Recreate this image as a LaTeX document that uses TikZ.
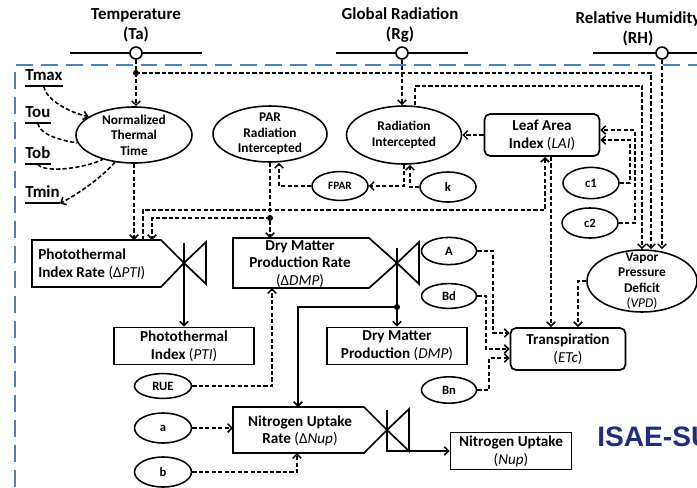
\documentclass[tikz,border=0pt]{standalone}
\usepackage{fontspec}
\setmainfont{Carlito}
\newfontfamily\logofont{Liberation Sans}
\usepackage{tikz}
\usetikzlibrary{arrows.meta,calc,positioning,shapes.geometric}

\definecolor{frameblue}{RGB}{79,129,189}
\definecolor{logoblue}{RGB}{31,45,128}

\newcommand{\abbrev}[1]{{\mdseries(\textit{#1})}}
\newcommand{\rateabbrev}[1]{{\mdseries(Δ\textit{#1})}}

\tikzset{
	hdr/.style={font=\bfseries\fontsize{12}{14.5}\selectfont, align=center, inner sep=0pt},
	tlab/.style={font=\bfseries\fontsize{12}{14}\selectfont, anchor=base west, inner xsep=0pt, inner ysep=4.3pt, text depth=0pt},
	inlet/.style={circle, draw, fill=white, line width=1.1pt, minimum size=0.3cm, inner sep=0pt},
	ell/.style={ellipse, draw, line width=1.1pt, inner sep=0pt, align=center, font=\bfseries\fontsize{9.5}{11}\selectfont},
	elltxt/.style={align=center, inner sep=0pt, font=\bfseries\fontsize{9.5}{11}\selectfont},
	sell/.style={ell, minimum width=1.4cm, minimum height=0.72cm, font=\bfseries\fontsize{9}{10}\selectfont},
	box/.style={rectangle, draw, line width=1.2pt, inner sep=0pt, align=center, font=\bfseries\fontsize{10.8}{12.8}\selectfont},
	rbox/.style={box, rounded corners=4pt},
	ratetxt/.style={inner sep=0pt, font=\bfseries\fontsize{10.8}{12.6}\selectfont},
	dsh/.style={line width=1.1pt, dash pattern=on 3pt off 1.6pt, -{Straight Barb[length=3pt,width=6pt]}},
	flow/.style={line width=1.1pt, -{Straight Barb[length=3pt,width=6pt]}},
	rateline/.style={line width=1.2pt, line join=miter},
	valve/.pic={\draw[rateline] (0,0) -- (22,-21) -- (22,21) -- cycle;},
}

\begin{document}
\begin{tikzpicture}[x=0.025cm, y=-0.025cm]
	\useasboundingbox (0,0) rectangle (697,487);
	\clip (0,0) rectangle (697,487);

	\node[hdr] (tatxt) at (136,25) {Temperature\\(Ta)};
	\node[hdr] (rgtxt) at (400,25) {Global Radiation\\(Rg)};
	\node[hdr] (rhtxt) at (638,29) {Relative Humidity\\(RH)};
	\draw[line width=1.4pt] (70,53) -- (202,53) node[inlet, pos=0.5] (ta) {};
	\draw[line width=1.4pt] (336,53) -- (468,53) node[inlet, pos=0.5] (rg) {};
	\draw[line width=1.4pt] (593,53) -- (731,53) node[inlet, pos=0.5] (rh) {};

	\draw[frameblue, line width=1pt, dash pattern=on 12pt off 5.7pt] (15,487) -- (15,65) -- (697,65);

	\foreach \t/\y in {Tmax/80, Tou/117, Tob/158, Tmin/197}
		\node[tlab] (\t) at (25,\y) {\t};
	\foreach \t in {Tmax, Tou, Tob, Tmin}
		\draw[line width=1.2pt] (\t.south west) -- (\t.south east);

	\node[ell, minimum width=2.9cm, minimum height=1.4cm, label={[elltxt]center:{Normalized\\Thermal\\Time}}] (ntt) at (134,135) {};
	\node[ell, minimum width=2.85cm, minimum height=1.4cm, label={[elltxt]center:{PAR\\Radiation\\Intercepted}}] (par) at (270,134) {};
	\node[ell, minimum width=2.875cm, minimum height=1.45cm] (radint) at (404,135) {Radiation\\Intercepted};
	\node[rbox, minimum width=2.875cm, minimum height=1.05cm] (lai) at (542,135) {Leaf Area\\Index \abbrev{LAI}};
	\node[sell, font=\bfseries\fontsize{8}{9}\selectfont] (fpar) at (340,186) {FPAR};
	\node[sell, minimum height=0.75cm] (k) at (448,187) {k};
	\node[sell, minimum height=0.78cm] (c1) at (591,183) {c1};
	\node[sell, minimum height=0.75cm] (c2) at (590,223) {c2};
	\node[ell, minimum width=2.75cm, minimum height=1.55cm, label={[elltxt]center:{Vapor\\Pressure\\Deficit\\\abbrev{VPD}}}] (vpd) at (642,281) {};
	\node[sell, minimum width=1.375cm, minimum height=0.68cm] (A) at (449,251) {A};
	\node[sell, minimum width=1.375cm, minimum height=0.62cm] (Bd) at (449,296) {Bd};
	\node[sell, minimum width=1.375cm, minimum height=0.66cm] (Bn) at (449,390) {Bn};
	\node[rbox, minimum width=2.875cm, minimum height=1.05cm] (transp) at (568,349) {Transpiration\\\abbrev{ETc}};
	\node[box, minimum width=3.5cm, minimum height=0.925cm] (pti) at (184,346) {Photothermal\\Index \abbrev{PTI}};
	\node[box, minimum width=3.5cm, minimum height=0.925cm] (dmp) at (397,346) {Dry Matter\\Production \abbrev{DMP}};
	\node[box, minimum width=3.025cm, minimum height=0.925cm] (nup) at (511,451) {Nitrogen Uptake\\\abbrev{Nup}};
	\node[sell, minimum width=1.425cm, minimum height=0.62cm] (rue) at (163,386) {RUE};
	\node[sell, minimum width=1.425cm, minimum height=0.75cm] (a) at (163,428) {a};
	\node[sell, minimum width=1.425cm, minimum height=0.75cm] (b) at (163,472) {b};

	\coordinate (ptiv) at (184,263);
	\coordinate (dmpv) at (397,263);
	\coordinate (nupv) at (387,430);
	\draw[rateline] (32,240) -- (161,240) -- (ptiv) -- (161,287) -- (32,287) -- cycle;
	\draw[rateline] (233,238) -- (369,238) -- (dmpv) -- (369,288) -- (233,288) -- cycle;
	\draw[rateline] (233,407) -- (364,407) -- (nupv) -- (364,453) -- (233,453) -- cycle;
	\pic at (ptiv) {valve};
	\pic at (dmpv) {valve};
	\pic at (nupv) {valve};
	\node[ratetxt, anchor=west, align=left] (ptirtxt) at (38,264) {Photothermal\\Index Rate \rateabbrev{PTI}};
	\node[ratetxt, align=center] (dmprtxt) at (300,264) {Dry Matter\\Production Rate\\\rateabbrev{DMP}};
	\node[ratetxt, align=center] (nuprtxt) at (300,431) {Nitrogen Uptake\\Rate \rateabbrev{Nup}};

	\node[font=\logofont\bfseries\fontsize{20}{24}\selectfont, text=logoblue, anchor=west, inner sep=0pt] (isae) at (597,437) {ISAE-SUPAERO};

	\coordinate (tdot) at (136,73);
	\coordinate (pdot) at (270,218);
	\coordinate (ddot) at (397,307);
	\coordinate (ptirA) at (134,240);
	\coordinate (ptirB) at (143,240);
	\coordinate (ptirC) at (152,240);
	\coordinate (dmprN) at (270,238);
	\coordinate (dmprS) at (272,288);
	\coordinate (nuprW) at (233,428);
	\coordinate (nuprN) at (298,407);
	\coordinate (nuprS) at (297,453);
	\coordinate (laiin) at ($(lai.south)+(3,0)$);
	\coordinate (laiout) at ($(lai.south)+(9,0)$);

	\draw[dsh] (Tmax.south) .. controls +(2,14) and +(-18,-4) .. (ntt.158);
	\draw[dsh, -] (Tou.south) .. controls +(2,12) and +(-14,-2) .. (ntt.188);
	\draw[dsh, -] (Tob.south) .. controls +(6,9) and +(-18,9) .. (ntt.218);
	\draw[dsh] (ntt.235) .. controls +(-14,16) and +(16,-8) .. (Tmin.south east);

	\draw[dsh] (ta) -- (ta |- ntt.north);
	\fill (tdot) circle[radius=0.075cm];
	\draw[dsh] (tdot) -| ($(vpd.north)+(9,0)$);
	\draw[dsh] (rg) -- (rg |- radint.north);
	\draw[dsh] ($(radint.north)+(11,0)$) -- ++(0,-19) -| (vpd.north);
	\draw[dsh] (rh) -- (rh |- vpd.north);
	\draw[dsh] (lai) -- (radint);
	\draw[dsh] (radint.south) |- (fpar);
	\draw[dsh] (k) -| ($(radint.south)+(6,0)$);
	\draw[dsh] (fpar) -| ($(par.south)+(9,0)$);
	\draw[dsh] (par) -- (dmprN);
	\fill (pdot) circle[radius=0.075cm];
	\draw[dsh] (pdot) -| (ptirC);
	\draw[dsh] (ntt) -- (ptirA);
	\draw[dsh] (ptirB) -- ++(0,-30) -| (laiin);
	\draw[dsh] (laiout) -- (laiout |- transp.north);
	\draw[dsh] (c1) -- ++(39,0) |- ($(lai.east)+(0,5)$);
	\draw[dsh] (c2) -- ++(45,0) |- ($(lai.east)+(0,-5)$);
	\draw[dsh] (vpd.west) -| ($(transp.north)+(10,0)$);
	\draw[dsh] (A) -- ++(44,0) |- ($(transp.west)+(0,-16)$);
	\draw[dsh] (Bd) -- ++(37,0) |- (transp.west);
	\draw[dsh] (Bn) -- ++(40,0) |- ($(transp.west)+(0,9)$);
	\draw[dsh] (rue) -| (dmprS);
	\draw[dsh] (a) -- (nuprW);
	\draw[dsh] (b) -| (nuprS);

	\draw[flow] ($(ptiv)+(0,-20)$) -- (ptiv |- pti.north);
	\draw[flow] ($(dmpv)+(0,-15)$) -- (dmpv |- dmp.north);
	\fill (ddot) circle[radius=0.075cm];
	\draw[flow] (ddot) -| (nuprN);
	\draw[flow] ($(nupv)+(0,-20)$) |- (nup);
\end{tikzpicture}
\end{document}
